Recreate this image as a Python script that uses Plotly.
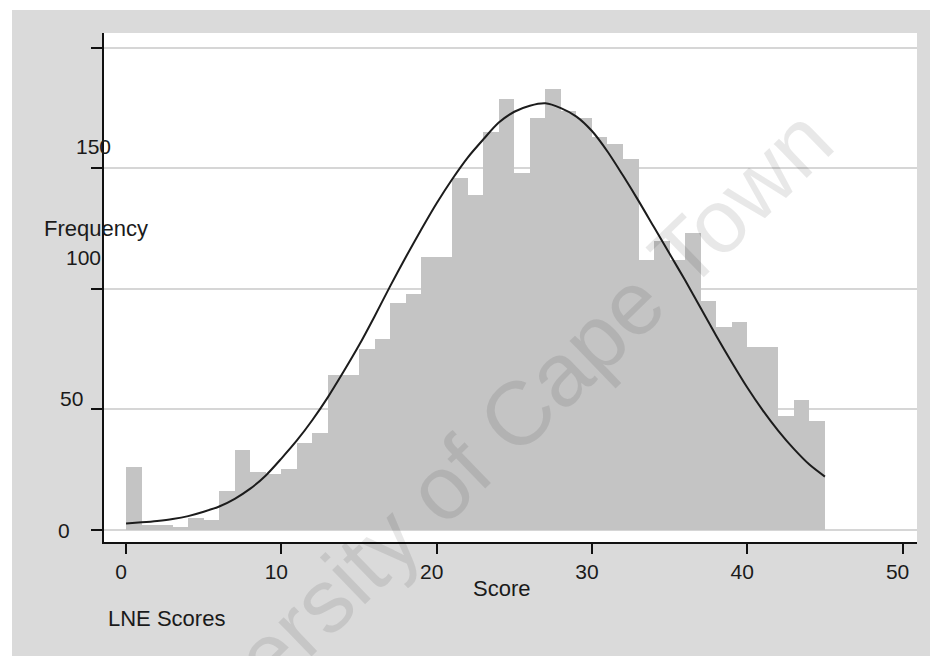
import plotly.graph_objects as go

# ---- data ----
bin_left = list(range(45))            # score bins of width 1: [i, i+1)
counts = [26, 2, 2, 1, 5, 4, 16, 33, 24, 23,
          25, 36, 40, 64, 64, 75, 79, 94, 98, 113,
          113, 146, 139, 165, 179, 148, 171, 183, 174, 171,
          163, 160, 154, 112, 120, 112, 123, 95, 84, 86,
          76, 76, 47, 54, 45]
curve_x = list(range(46))             # positions where the overlay curve was read
curve_y = [2.5, 3, 3.6, 4.4, 5.6, 7.4, 9.6, 12.8, 17, 22.5,
           29.5, 37, 45.5, 55, 65.5, 76.5, 88.5, 101, 113, 124.5,
           135.5, 145.5, 154.5, 162, 169, 173.5, 176, 177, 175, 171.5,
           165.5, 157, 147, 136.5, 125.5, 114.5, 103.5, 92, 80.5, 69.5,
           59, 49.5, 41, 33.5, 27, 22]
x_ticks = [0, 10, 20, 30, 40, 50]
y_ticks = [0, 50, 100, 150, 200]
y_tick_text = ["0", "50", "100", "150", ""]
x_title = "Score"
y_title = "Frequency"
note = "LNE Scores"
watermark = "University of Cape Town"

# ---- styling ----
W, H = 930, 656
ML, MR, MT, MB = 104, 13, 33, 114
PW, PH = W - ML - MR, H - MT - MB
FONT = "Liberation Sans, Arial, Helvetica, sans-serif"
TXT = "#1a1a1a"

def px_x(p):
    return (p - ML) / PW

def px_y(p):
    return (H - MB - p) / PH

fig = go.Figure()
fig.add_trace(go.Bar(x=bin_left, y=counts, width=1, offset=0,
                     marker=dict(color="#c4c4c4", line=dict(width=0)),
                     hoverinfo="x+y"))
fig.add_trace(go.Scatter(x=curve_x, y=curve_y, mode="lines",
                         line=dict(color="#1c1c1c", width=2, shape="spline",
                                   smoothing=0.8),
                         hoverinfo="skip"))

shapes = [
    dict(type="rect", xref="paper", yref="paper", layer="below",
         x0=px_x(12), x1=px_x(935), y0=px_y(665), y1=px_y(10),
         fillcolor="#dadada", line=dict(width=0)),
    dict(type="rect", xref="paper", yref="paper", layer="below",
         x0=0, x1=1, y0=0, y1=1, fillcolor="#ffffff", line=dict(width=0)),
]

annotations = []
# y tick labels (placed as in the scanned reference)
ylab_right = [72, 85, 103, 113]
ylab_dy = [-1, 11, 31, 22]
for v, t, xr, dy in zip(y_ticks, y_tick_text, ylab_right, ylab_dy):
    if not t:
        continue
    annotations.append(dict(x=0, xref="paper", xshift=xr - ML, xanchor="right",
                            y=v, yref="y", yshift=dy, yanchor="middle",
                            text=t, showarrow=False,
                            font=dict(family=FONT, size=21, color=TXT)))
annotations += [
    dict(x=px_x(42), y=px_y(229), xref="paper", yref="paper", xanchor="left",
         yanchor="middle", text=y_title, showarrow=False,
         font=dict(family=FONT, size=22, color=TXT)),
    dict(x=px_x(501), y=px_y(588), xref="paper", yref="paper", xanchor="center",
         yanchor="middle", text=x_title, showarrow=False,
         font=dict(family=FONT, size=22, color=TXT)),
    dict(x=px_x(106), y=px_y(618), xref="paper", yref="paper", xanchor="left",
         yanchor="middle", text=note, showarrow=False,
         font=dict(family=FONT, size=22, color=TXT)),
    dict(x=px_x(468), y=px_y(462), xref="paper", yref="paper", xanchor="center",
         yanchor="middle", text=watermark, showarrow=False, textangle=-44,
         font=dict(family=FONT, size=90, color="rgba(0,0,0,0.09)")),
]

fig.update_layout(
    width=W, height=H,
    margin=dict(l=ML, r=MR, t=MT, b=MB, pad=0),
    paper_bgcolor="#ffffff", plot_bgcolor="#ffffff",
    showlegend=False, bargap=0,
    shapes=shapes, annotations=annotations,
    font=dict(family=FONT, size=21, color=TXT),
    xaxis=dict(range=[-1.42, 50.93], tickvals=x_ticks, ticks="outside",
               ticklen=10, tickwidth=1.6, tickcolor="#111111",
               showline=True, linecolor="#111111", linewidth=2,
               showgrid=False, zeroline=False, ticklabelshift=-5,
               tickfont=dict(family=FONT, size=21, color=TXT)),
    yaxis=dict(range=[-5.15, 206.2], tickvals=y_ticks, ticks="outside",
               ticklen=11, tickwidth=1.6, tickcolor="#111111",
               showticklabels=False,
               showline=True, linecolor="#111111", linewidth=2,
               showgrid=True, gridcolor="#d6d6d6", gridwidth=1.5,
               zeroline=False),
)

fig.write_html("out.html")
